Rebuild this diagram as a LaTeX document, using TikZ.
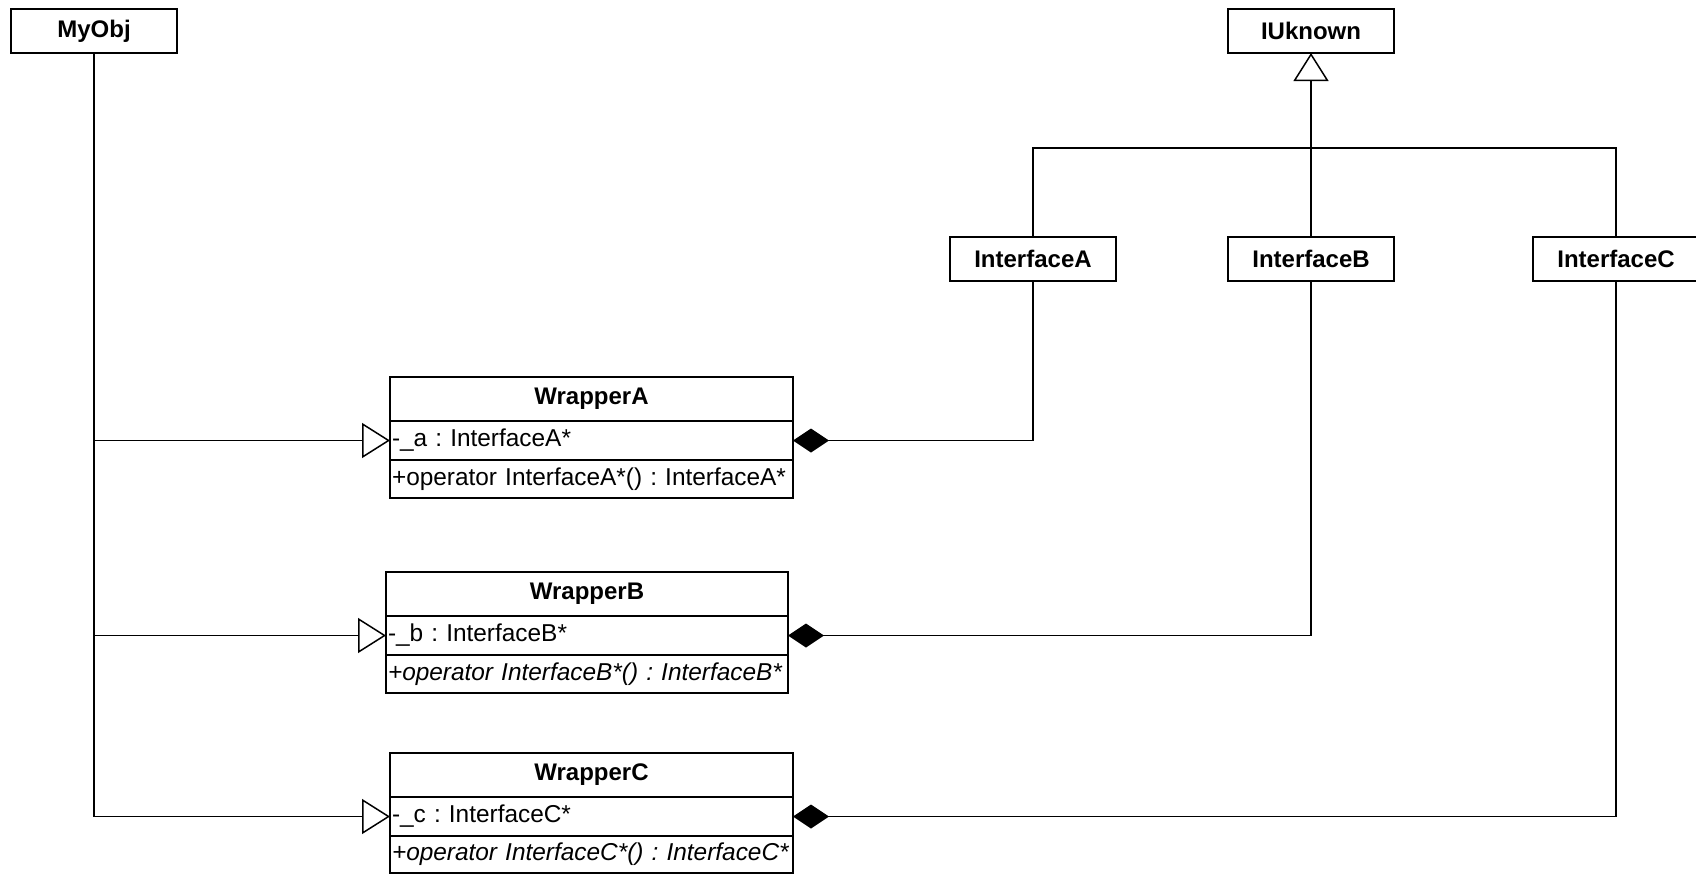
\documentclass[tikz,border=0pt]{standalone}
\usepackage{fontspec}
\setmainfont{Liberation Sans}
\usetikzlibrary{arrows.meta}
\begin{document}
\frenchspacing
\begin{tikzpicture}[x=1pt,y=-1pt,
  box/.style={draw, line width=1.5pt, font=\fontsize{24}{28}\selectfont\bfseries, minimum width=166pt, minimum height=44pt, inner sep=0pt, outer sep=0pt},
  title/.style={draw, line width=1.5pt, font=\fontsize{24}{28}\selectfont\bfseries, minimum height=44pt, inner sep=0pt, outer sep=0pt, anchor=north west},
  row/.style={draw, line width=1.5pt, font=\fontsize{24.4}{28}\selectfont, minimum height=39pt, inner xsep=2pt, inner ysep=0pt, outer sep=0pt, align=left, anchor=north west},
  gen/.style={line width=1.3pt, -{Triangle[open, length=28pt, width=35pt, line width=1.5pt]}},
  comp/.style={line width=1.3pt, {Diamond[length=36pt, width=24pt]}-},
  conn/.style={line width=1.3pt}
]
\useasboundingbox (0,0) rectangle (1696,873);

% simple class boxes
\node[box, anchor=north west] (myobj) at (11,9) {MyObj};
\node[box, anchor=north west] (iu) at (1228,9) {IUknown};
\node[box, anchor=north west] (ia) at (950,237) {InterfaceA};
\node[box, anchor=north west] (ib) at (1228,237) {InterfaceB};
\node[box, anchor=north west] (ic) at (1533,237) {InterfaceC};

% WrapperA
\node[title, minimum width=403pt] (wa) at (390,377) {WrapperA};
\node[row, text width=399pt] (wa1) at (wa.south west) {-\_a : InterfaceA*};
\node[row, text width=399pt, minimum height=38pt] (wa2) at (wa1.south west) {\mbox{+operator InterfaceA*() : InterfaceA*}};

% WrapperB
\node[title, minimum width=402pt] (wb) at (386,572) {WrapperB};
\node[row, text width=398pt] (wb1) at (wb.south west) {-\_b : InterfaceB*};
\node[row, text width=398pt, minimum height=38pt] (wb2) at (wb1.south west) {\mbox{\itshape +operator InterfaceB*() : InterfaceB*}};

% WrapperC
\node[title, minimum width=403pt] (wc) at (390,753) {WrapperC};
\node[row, text width=399pt] (wc1) at (wc.south west) {-\_c : InterfaceC*};
\node[row, text width=399pt, minimum height=37pt] (wc2) at (wc1.south west) {\mbox{\itshape +operator InterfaceC*() : InterfaceC*}};

% generalization MyObj -> wrappers
\draw[conn] (myobj.south) -- (myobj.south |- wc1.west);
\draw[gen] (myobj.south |- wa1.west) -- (wa1.west);
\draw[gen] (myobj.south |- wb1.west) -- (wb1.west);
\draw[gen] (myobj.south |- wc1.west) -- (wc1.west);

% composition wrappers -> interfaces
\draw[comp] (wa1.east) -| (ia.south);
\draw[comp] (wb1.east) -| (ib.south);
\draw[comp] (wc1.east) -| (ic.south);

% interfaces -> IUknown
\path (iu.south) ++(0,95) coordinate (j);
\draw[conn] (ia.north) |- (j) -| (ic.north);
\draw[gen] (ib.north) -- (iu.south);
\end{tikzpicture}
\end{document}
